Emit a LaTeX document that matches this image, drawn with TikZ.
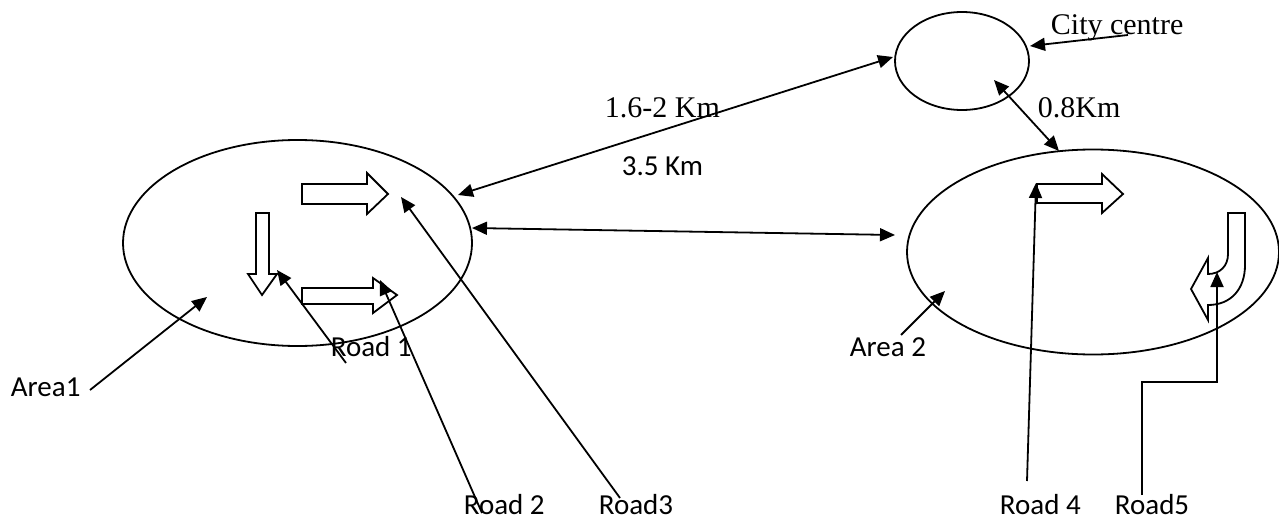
\documentclass[tikz,border=0pt]{standalone}
\usepackage{fontspec}
\setmainfont{Liberation Serif}
\newfontfamily\calfont{Carlito}
\usetikzlibrary{arrows.meta,shapes.geometric}
\begin{document}
\begin{tikzpicture}[x=1pt,y=-1pt,
  line width=1.8pt,
  ptr/.style={-{Triangle[length=15pt,width=13pt]}},
  dptr/.style={{Triangle[length=15pt,width=13pt]}-{Triangle[length=15pt,width=13pt]}},
  area/.style={draw,ellipse,inner sep=0pt},
  blk/.style={draw,fill=white,line join=miter},
  sanslbl/.style={anchor=base west,inner sep=0pt,font=\calfont\fontsize{29}{34}\selectfont},
  seriflbl/.style={anchor=base west,inner sep=0pt,font=\fontsize{30}{35}\selectfont}]
\useasboundingbox (0,0) rectangle (1279,519);
% areas
\node[area,minimum width=349pt,minimum height=206pt] (a1) at (297.5,243) {};
\node[area,minimum width=372pt,minimum height=205pt] (a2) at (1093,252) {};
\node[area,minimum width=134pt,minimum height=98pt] (cc) at (962,61) {};
% block arrows, area 1
\draw[blk] (302,184) -- (367,184) -- (367,173) -- (388,194) -- (367,214) -- (367,204) -- (302,204) -- cycle;
\draw[blk] (302,288) -- (373,288) -- (373,278) -- (397,295) -- (373,313) -- (373,304) -- (302,304) -- cycle;
\draw[blk] (256,213) -- (269,213) -- (269,274) -- (277,274) -- (262,295) -- (248,274) -- (256,274) -- cycle;
% block arrows, area 2
\draw[blk] (1037,184) -- (1102,184) -- (1102,174) -- (1123,194) -- (1102,213) -- (1102,203) -- (1037,203) -- cycle;
\draw[blk] (1228,213) -- (1245,213) -- (1245,265) .. controls (1245,289) and (1231,305) .. (1208,305)
  -- (1208,320) -- (1191,289) -- (1208,258) -- (1208,274) .. controls (1220,274) and (1228,266) .. (1228,254) -- cycle;
% labels
\node[seriflbl] (lcity) at (1050,35) {City centre};
\node[seriflbl] (l16) at (604,117) {1.6-2 Km};
\node[sanslbl] (l35) at (621,175) {3.5 Km};
\node[seriflbl] (l08) at (1037,117) {0.8Km};
\node[sanslbl] (lr1) at (330,356) {Road 1};
\node[sanslbl] (lr2) at (463,514) {Road 2};
\node[sanslbl] (lr3) at (598,514) {Road3};
\node[sanslbl] (lr4) at (999,514) {Road 4};
\node[sanslbl] (lr5) at (1114,514) {Road5};
\node[sanslbl] (la2) at (849,356) {Area 2};
\node[sanslbl] (la1) at (10,396) {Area1};
% connector end points
\coordinate (c16a) at (458,195);
\coordinate (c16b) at (893,57);
\coordinate (c35a) at (472,228);
\coordinate (c35b) at (895,235);
\coordinate (c08a) at (994,80);
\coordinate (c08b) at (1059,151);
\coordinate (ccs) at (1128,35);
\coordinate (cct) at (1030,46);
\coordinate (a1s) at (90,390);
\coordinate (a1t) at (207,297);
\coordinate (a2s) at (901,335);
\coordinate (a2t) at (945,291);
\coordinate (r1s) at (346,363);
\coordinate (r1t) at (277,270);
\coordinate (r2s) at (482,513);
\coordinate (r2t) at (380,280);
\coordinate (r3s) at (620,498);
\coordinate (r3t) at (401,197);
\coordinate (r4s) at (1027,481);
\coordinate (r4t) at (1036,183);
\coordinate (r5s) at (1142,495);
\coordinate (r5m) at (1217,382);
\coordinate (r5t) at (1217,272);
% connectors
\draw[dptr] (c16a) -- (c16b);
\draw[dptr] (c35a) -- (c35b);
\draw[dptr] (c08a) -- (c08b);
\draw[ptr] (ccs) -- (cct);
\draw[ptr] (a1s) -- (a1t);
\draw[ptr] (a2s) -- (a2t);
\draw[ptr] (r1s) -- (r1t);
\draw[ptr] (r2s) -- (r2t);
\draw[ptr] (r3s) -- (r3t);
\draw[ptr] (r4s) -- (r4t);
\draw[ptr] (r5s) |- (r5m) -- (r5t);
\end{tikzpicture}
\end{document}
